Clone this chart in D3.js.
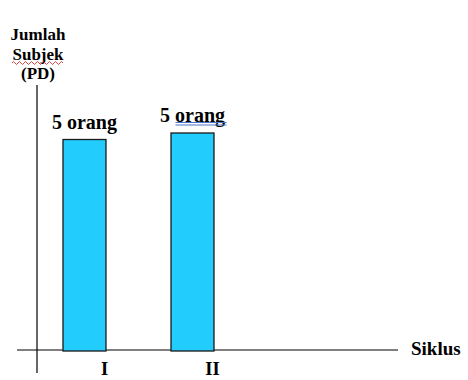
<!DOCTYPE html>
<html><head><meta charset="utf-8">
<script src="https://cdn.jsdelivr.net/npm/d3@7/dist/d3.min.js"></script>
<style>body{margin:0;background:#fff}svg{display:block}text{font-family:"Liberation Serif","Times New Roman",serif;font-weight:bold;fill:#000}</style>
</head><body><svg id="c" width="468" height="380"></svg>
<script>
const categories = ["I", "II"];
const barValues = [4.85, 5.0];
const barLabels = ["5 orang", "5 orang"];
const yTitle = ["Jumlah", "Subjek", "(PD)"];
const xTitle = "Siklus";

const svg = d3.select("#c");
const x = d3.scaleBand().domain(categories).range([63, 214]).paddingInner(0.602).paddingOuter(0);
const y = d3.scaleLinear().domain([0, 5]).range([350, 133]);

// axes lines
svg.append("line").attr("x1", 37).attr("x2", 37).attr("y1", 85).attr("y2", 373).attr("stroke", "#000").attr("stroke-width", 1.2);
svg.append("line").attr("x1", 17).attr("x2", 398).attr("y1", 350).attr("y2", 350).attr("stroke", "#000").attr("stroke-width", 1.2);

// bars
svg.selectAll("rect.bar").data(categories).enter().append("rect")
  .attr("class", "bar")
  .attr("x", d => x(d)).attr("width", x.bandwidth())
  .attr("y", (d, i) => y(barValues[i])).attr("height", (d, i) => y(0) - y(barValues[i]) + 1)
  .attr("fill", "#22ccfc").attr("stroke", "#1a1a1a").attr("stroke-width", 1.3);

// bar labels
svg.selectAll("text.lbl").data(categories).enter().append("text")
  .attr("class", "lbl")
  .attr("x", d => x(d) + x.bandwidth() / 2)
  .attr("y", (d, i) => y(barValues[i]) - 11)
  .attr("text-anchor", "middle").attr("font-size", 20)
  .text((d, i) => barLabels[i]);

// spellcheck double underline on second label
const l2x = x(categories[1]) + x.bandwidth() / 2;
[122.5, 125].forEach(yy => svg.append("line").attr("x1", l2x - 17).attr("x2", l2x + 34).attr("y1", yy).attr("y2", yy).attr("stroke", "#4a72c8").attr("stroke-width", 1));

// tick labels
svg.selectAll("text.tick").data(categories).enter().append("text")
  .attr("class", "tick")
  .attr("x", d => x(d) + x.bandwidth() / 2 + 20)
  .attr("y", 375).attr("text-anchor", "middle").attr("font-size", 18.5)
  .text(d => d);

// y title
svg.append("text").attr("x", 38).attr("y", 40).attr("text-anchor", "middle").attr("font-size", 17)
  .selectAll("tspan").data(yTitle).enter().append("tspan")
  .attr("x", 38).attr("dy", (d, i) => i === 0 ? 0 : 19.5).text(d => d);

// red wavy underline under "Subjek"
let wp = "M12,63";
for (let xx = 12; xx < 62; xx += 3) wp += ` L${xx + 1.5},${xx % 6 === 0 ? 61.5 : 64.5} L${xx + 3},63`;
svg.append("path").attr("d", wp).attr("fill", "none").attr("stroke", "#e03030").attr("stroke-width", 0.9);

// x title
svg.append("text").attr("x", 411).attr("y", 355).attr("font-size", 19).text(xTitle);
</script></body></html>
